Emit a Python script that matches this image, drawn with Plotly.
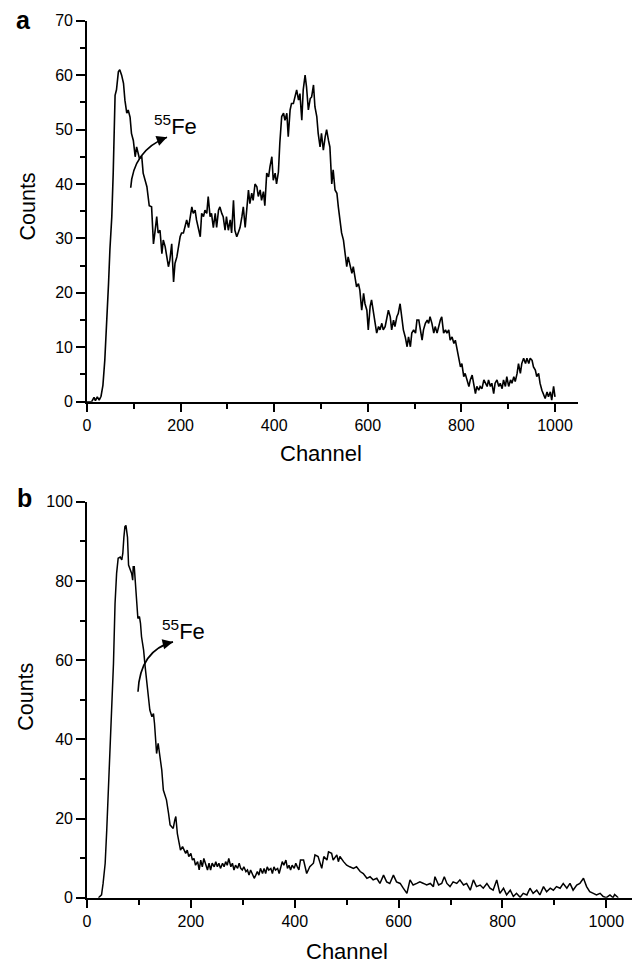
import plotly.graph_objects as go

# ---------------- data: panel a ----------------
chan_a = [0, 10, 15, 18, 22, 26, 30, 34, 38, 42, 46, 49, 53, 56, 58, 60, 63, 67, 70, 74, 78, 81, 85, 88,
          92, 95, 99, 103, 106, 112, 117, 120, 128, 133, 138, 142, 145, 149, 152, 156, 160, 163, 167,
          170, 174, 177, 181, 185, 188, 192, 195, 199, 202, 206, 209, 213, 217, 220, 224, 227, 231, 234,
          238, 242, 245, 249, 252, 256, 259, 263, 266, 270, 274, 277, 281, 284, 288, 291, 295, 298, 302,
          306, 309, 313, 316, 320, 323, 327, 331, 334, 338, 341, 345, 348, 352, 355, 359, 363, 366, 370,
          373, 377, 380, 384, 388, 391, 395, 398, 402, 405, 409, 412, 416, 420, 423, 427, 430, 434, 437,
          441, 445, 448, 452, 455, 459, 462, 466, 469, 473, 477, 480, 484, 487, 491, 494, 498, 501, 505,
          509, 512, 516, 519, 523, 526, 530, 534, 537, 541, 544, 548, 551, 555, 558, 562, 566, 569, 573,
          576, 580, 583, 587, 591, 594, 598, 601, 605, 608, 612, 616, 619, 623, 626, 630, 633, 637, 640,
          644, 648, 651, 655, 658, 662, 665, 669, 672, 676, 680, 684, 687, 691, 694, 698, 702, 705, 709,
          712, 716, 719, 723, 727, 730, 733, 737, 741, 744, 748, 751, 755, 758, 762, 766, 769, 773, 776,
          780, 784, 787, 791, 794, 798, 801, 805, 808, 812, 816, 819, 823, 826, 830, 833, 837, 840, 844,
          848, 851, 855, 858, 862, 865, 869, 872, 876, 880, 883, 887, 890, 894, 897, 901, 905, 908, 912,
          915, 919, 922, 926, 929, 933, 937, 940, 944, 947, 951, 954, 958, 961, 965, 968, 972, 975, 979,
          983, 986, 990, 993, 997, 1000]
counts_a = [0, 0, 0.8, 0.2, 0.9, 0.3, 1, 3, 7.6, 14, 21.7, 28, 34, 42, 49.3, 56.3, 57.3, 60.6, 61, 60,
            58.5, 55.4, 53, 53.6, 52.3, 49.3, 48, 45, 46.8, 44.7, 45, 42, 39.5, 36, 35.8, 29, 31, 34, 31,
            31.5, 27.2, 29.7, 28.5, 26.6, 24.8, 26, 29, 22, 25.4, 26.6, 28.5, 30.3, 31, 31, 32, 33.4, 32,
            34, 35.8, 34.6, 35.2, 33.4, 32, 30.3, 34.6, 34, 35.2, 34.6, 37.7, 34, 34.6, 32, 34.6, 32, 35.2,
            35.8, 34.6, 34, 31.5, 34, 31.5, 33.4, 31, 37, 31.5, 30.3, 31, 32, 34, 35.8, 32, 35.8, 38.9,
            36.4, 38.3, 37, 40, 39.5, 37.7, 38.9, 37, 38.6, 36, 42, 41.3, 43.2, 45, 40.7, 42, 40, 42.2,
            47.5, 52.4, 53, 51.7, 53, 48.7, 53.6, 54.8, 54.8, 56, 57.3, 55.4, 56.6, 51.7, 57.3, 60, 57.9,
            53.6, 55.7, 56, 58.2, 54.2, 52.4, 49.3, 46.8, 49.3, 46.2, 48.7, 50, 48, 46.8, 40, 42.6, 38.9,
            38.3, 35.8, 33.4, 31, 29.7, 27.2, 24.8, 26.6, 24.8, 23.6, 24.8, 23, 21.1, 21.7, 20.5, 16.8,
            19.9, 18, 16.8, 13.2, 17.5, 18.7, 16.2, 13.8, 12.6, 13.8, 13.2, 14.4, 13.2, 13.8, 15, 16.8,
            15.6, 13.2, 15, 13.8, 15.6, 16.2, 18, 15.6, 13.2, 11.9, 10.1, 11.9, 10.1, 12.6, 13.2, 12.6,
            15, 15, 13.2, 11.3, 13.2, 14.4, 15, 14.4, 15.6, 14.4, 12.6, 13.8, 12.6, 13.8, 15, 15.6, 12.6,
            13.2, 12.6, 13.2, 11.3, 11.9, 10.7, 11.3, 9.5, 7.6, 6.4, 7, 4.6, 5.2, 4, 2.8, 4, 4.9, 3.4, 1.5,
            2.8, 2.1, 2.8, 2.4, 4, 3.4, 2.8, 4, 2.8, 3.4, 1.5, 3.4, 4, 2.8, 3.4, 2.4, 4, 2.8, 4.6, 2.8, 4,
            3.4, 4.6, 3.7, 5.2, 7, 5.2, 7, 8, 7, 8, 7, 8, 7.6, 6.4, 5.8, 4.6, 5.2, 3.4, 2.1, 1.5, 0.6, 1.8,
            0.9, 1.8, 0.3, 2.8, 0.9]

# ---------------- data: panel b ----------------
chan_b = [22, 28, 31, 35, 38, 41, 44, 48, 51, 54, 57, 60, 64, 67, 69, 71, 73, 75, 78, 80, 83, 86, 88,
          89, 91, 93, 96, 98, 101, 103, 105, 109, 112, 115, 118, 121, 125, 128, 130, 132, 134, 137, 141,
          144, 147, 150, 153, 157, 160, 163, 166, 169, 171, 174, 177, 180, 184, 187, 190, 193, 196, 200,
          203, 206, 209, 213, 216, 219, 222, 225, 229, 232, 235, 238, 241, 245, 248, 251, 254, 257, 261,
          264, 267, 270, 273, 277, 280, 283, 286, 290, 293, 296, 299, 302, 306, 309, 312, 315, 318, 322,
          325, 328, 331, 334, 338, 341, 344, 347, 350, 354, 357, 360, 363, 367, 370, 373, 376, 379, 383,
          386, 389, 392, 395, 399, 402, 405, 408, 411, 417, 423, 429, 436, 439, 445, 452, 456, 462, 465,
          471, 474, 481, 484, 487, 494, 500, 506, 513, 519, 526, 532, 539, 545, 551, 558, 564, 571, 577,
          583, 590, 596, 603, 609, 616, 622, 628, 635, 641, 648, 654, 661, 667, 670, 677, 683, 688, 693,
          699, 705, 712, 718, 725, 731, 738, 744, 750, 757, 763, 770, 776, 782, 789, 795, 802, 808, 815,
          821, 827, 834, 840, 847, 853, 859, 866, 872, 879, 885, 892, 898, 904, 911, 917, 924, 930, 936,
          943, 949, 956, 962, 968, 975, 981, 988, 994, 1000, 1007, 1013, 1016, 1023]
counts_b = [0, 0.7, 3.6, 8.7, 17, 27, 36.4, 47.4, 59.2, 74.3, 81.9, 85.7, 86, 85.3, 87, 91, 93.7, 94,
            91, 84, 82.7, 81.9, 80.2, 83.6, 83.6, 79.4, 71.8, 70.5, 71, 69.3, 65.9, 62.5, 58.3, 54, 50,
            47.4, 45.7, 46.5, 44, 39.8, 36.4, 39, 34.8, 32.2, 27.2, 25.9, 24.7, 21.3, 18.4, 17.9, 17.5,
            19.6, 20.5, 16.2, 14.1, 12, 12.9, 12, 11.2, 12, 10.4, 11.2, 9.5, 9.9, 8.2, 9.1, 7, 9.5, 7.8,
            9.9, 8.2, 7, 8.7, 7, 8.7, 7.8, 9.1, 7.8, 8.7, 7.4, 8.7, 7.8, 9.1, 8.2, 9.9, 7.8, 8.7, 7, 8.2,
            7.4, 8.7, 7.4, 7, 7.8, 6.6, 7, 5.7, 7, 6.1, 4.9, 5.7, 6.6, 5.7, 7.4, 6.1, 7.4, 6.1, 7.8, 7,
            7.4, 6.1, 7.8, 7, 7.4, 6.1, 7.8, 9.1, 8.2, 9.5, 7.4, 8.2, 7, 8.2, 7.4, 8.7, 7.8, 7, 9.5, 9.5,
            6.1, 7.8, 8.7, 10.8, 10.4, 7.4, 10.4, 9.5, 11.6, 11.2, 9.5, 10.8, 9.1, 10.4, 9.1, 8.2, 7.8,
            7.4, 7.8, 6.6, 6.1, 4.9, 5.3, 4.5, 4.9, 3.6, 5.7, 4, 3.6, 5.7, 4, 3.6, 2.4, 1.1, 4.5, 3.2,
            3.6, 4, 3.6, 3.2, 3.6, 2.8, 5.3, 3.2, 3.6, 5.3, 3.6, 2.8, 4, 3.6, 4.5, 3.2, 3.6, 1.9, 4.5,
            2.8, 3.2, 2.4, 3.6, 2.4, 1.9, 4.5, 1.1, 2.4, 0.7, 1.9, 0.3, 1.1, 0.1, 1.1, 0.7, 2.4, 1.1,
            1.9, 0.7, 2.8, 1.5, 2.4, 1.9, 2.8, 2.4, 3.6, 2.4, 3.6, 1.9, 3.2, 3.6, 4.9, 2.8, 1.5, 1.1,
            0.7, 1.1, 0.3, 0, 0.7, 0, 0.8, 0]

panel_labels = ["a", "b"]
x_title = "Channel"
y_title = "Counts"
iso_label = "<sup>55</sup>Fe"

W, H = 638, 962
FONT = "Liberation Sans, Arial, Helvetica, sans-serif"


def px_x(p):
    return p / W


def px_y(p):
    return 1 - p / H


fig = go.Figure()
fig.add_trace(go.Scatter(x=chan_a, y=counts_a, mode="lines", xaxis="x", yaxis="y",
                         line=dict(color="black", width=1.6), showlegend=False))
fig.add_trace(go.Scatter(x=chan_b, y=counts_b, mode="lines", xaxis="x2", yaxis="y2",
                         line=dict(color="black", width=1.5), showlegend=False))

axis_common = dict(showline=True, linecolor="black", linewidth=1.7, showgrid=False, zeroline=False,
                   ticks="outside", tickcolor="black", tickwidth=1.5,
                   tickfont=dict(family=FONT, size=16, color="black"), automargin=False)

minor_x = dict(tickvals=[100, 300, 500, 700, 900], ticklen=5, ticks="outside",
               tickcolor="black", tickwidth=1.5)

fig.update_layout(
    width=W, height=H, autosize=False,
    margin=dict(l=0, r=0, t=0, b=0),
    paper_bgcolor="white", plot_bgcolor="white",
    font=dict(family=FONT, color="black"),
    xaxis=dict(axis_common, domain=[px_x(87), px_x(578.4)], range=[0, 1050], anchor="y",
               tickvals=[0, 200, 400, 600, 800, 1000], ticklen=8, minor=minor_x),
    yaxis=dict(axis_common, domain=[px_y(401.7), px_y(20.7)], range=[0, 70], anchor="x",
               dtick=10, ticklen=9,
               minor=dict(dtick=5, ticklen=5, ticks="outside", tickcolor="black", tickwidth=1.5)),
    xaxis2=dict(axis_common, domain=[px_x(87), px_x(632.3)], range=[0, 1050], anchor="y2",
                tickvals=[0, 200, 400, 600, 800, 1000], ticklen=8, minor=minor_x),
    yaxis2=dict(axis_common, domain=[px_y(897.7), px_y(501.7)], range=[0, 100], anchor="x2",
                dtick=20, ticklen=9,
                minor=dict(dtick=10, ticklen=5, ticks="outside", tickcolor="black", tickwidth=1.5)),
)

annos = []
# panel labels
annos.append(dict(text=panel_labels[0], x=px_x(23), y=px_y(19.5), xref="paper", yref="paper",
                  showarrow=False, xanchor="center", yanchor="middle",
                  font=dict(family=FONT, size=25, color="black", weight="bold")))
annos.append(dict(text=panel_labels[1], x=px_x(24), y=px_y(498), xref="paper", yref="paper",
                  showarrow=False, xanchor="center", yanchor="middle",
                  font=dict(family=FONT, size=25, color="black", weight="bold")))
# axis titles
for xr, ypix in (("x", 453.3), ("x2", 951.5)):
    annos.append(dict(text=x_title, x=500, y=px_y(ypix), xref=xr, yref="paper", showarrow=False,
                      xanchor="center", yanchor="middle", font=dict(family=FONT, size=22, color="black")))
for xpix, ypix in ((27.5, 207), (25.8, 697)):
    annos.append(dict(text=y_title, x=px_x(xpix), y=px_y(ypix), xref="paper", yref="paper",
                      showarrow=False, textangle=-90, xanchor="center", yanchor="middle",
                      font=dict(family=FONT, size=21.5, color="black")))

# 55Fe labels and curved arrows
iso_cfg = [
    # xref, yref, label x, label y, start, control, end, arrow tail
    ("x", "y", 139, 47.9, (93.4, 39.3), (98.3, 46.2), (171, 48.6), (149.1, 47.9)),
    ("x2", "y2", 140.6, 63.6, (98.2, 52.0), (102, 62.5), (165.6, 64.6), (146.5, 64.0)),
]
shapes = []
for xr, yr, lx, ly, s, c, e, t in iso_cfg:
    annos.append(dict(text=iso_label, x=lx, y=ly, xref=xr, yref=yr, showarrow=False,
                      xanchor="left", yanchor="bottom", font=dict(family=FONT, size=22, color="black")))
    shapes.append(dict(type="path", xref=xr, yref=yr,
                       path=f"M {s[0]},{s[1]} Q {c[0]},{c[1]} {e[0]},{e[1]}",
                       line=dict(color="black", width=1.6)))
    annos.append(dict(text="", x=e[0], y=e[1], ax=t[0], ay=t[1], xref=xr, yref=yr, axref=xr, ayref=yr,
                      showarrow=True, arrowhead=2, arrowsize=1.3, arrowwidth=1.6, arrowcolor="black"))

fig.update_layout(annotations=annos, shapes=shapes)
fig.write_html("out.html", config={"displayModeBar": False},
               post_script="document.body.style.margin='0';document.body.style.overflow='hidden';")
